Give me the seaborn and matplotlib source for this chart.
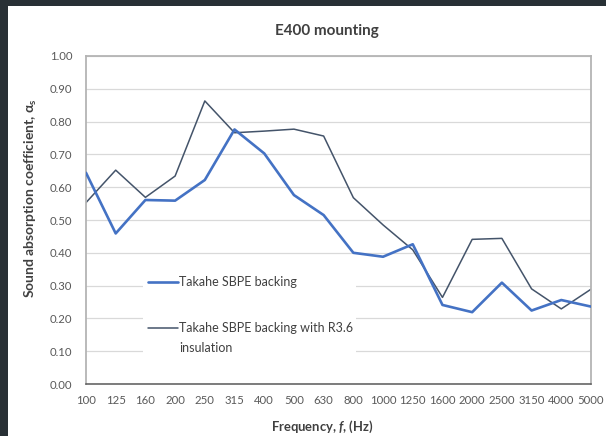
import pandas as pd
import matplotlib.pyplot as plt
import seaborn as sns
from matplotlib.lines import Line2D
from matplotlib.patches import Rectangle

# data
freqs = ['100', '125', '160', '200', '250', '315', '400', '500', '630', '800',
         '1000', '1250', '1600', '2000', '2500', '3150', '4000', '5000']
sbpe = [0.644, 0.459, 0.561, 0.559, 0.622, 0.776, 0.703, 0.576, 0.515, 0.400,
        0.388, 0.426, 0.241, 0.219, 0.309, 0.224, 0.256, 0.236]
sbpe_r36 = [0.553, 0.652, 0.569, 0.634, 0.863, 0.766, 0.771, 0.777, 0.756, 0.568,
            0.485, 0.409, 0.264, 0.441, 0.444, 0.290, 0.229, 0.289]
series_names = ['Takahe SBPE backing', 'Takahe SBPE backing with R3.6 insulation']
yticks = [0.0, 0.1, 0.2, 0.3, 0.4, 0.5, 0.6, 0.7, 0.8, 0.9, 1.0]

sns.set_style('white')
plt.rcParams['font.family'] = ['Lato', 'DejaVu Sans']
plt.rcParams['mathtext.fontset'] = 'custom'
plt.rcParams['mathtext.rm'] = 'Lato'
plt.rcParams['mathtext.bf'] = 'Lato:bold'
plt.rcParams['mathtext.it'] = 'Lato:italic'
plt.rcParams['mathtext.bfit'] = 'Lato:bold:italic'

df = pd.DataFrame({'freq': freqs * 2,
                   'alpha': sbpe + sbpe_r36,
                   'series': [series_names[0]] * len(freqs) + [series_names[1]] * len(freqs)})

W, H = 606, 436
fig = plt.figure(figsize=(W / 100, H / 100), dpi=100)
ax = fig.add_axes([86 / W, 1 - 384 / H, (591 - 86) / W, (384 - 56) / H])

blue = '#4472C4'
dark = '#44546A'
sns.lineplot(data=df[df.series == series_names[0]], x='freq', y='alpha', color=blue,
             lw=1.9, ax=ax, zorder=3, solid_joinstyle='round')
sns.lineplot(data=df[df.series == series_names[1]], x='freq', y='alpha', color=dark,
             lw=1.1, ax=ax, zorder=2.5, solid_joinstyle='round')

ax.set_xlim(0, len(freqs) - 1)
ax.set_ylim(0, 1.0)
ax.set_yticks(yticks)
ax.set_yticklabels([f'{v:.2f}' for v in yticks])
ax.set_xticks(range(len(freqs)))
ax.set_xticklabels(freqs)
ax.set_xlabel('')
ax.set_ylabel('')
ax.set_axisbelow(True)
ax.yaxis.grid(True, color='#d9d9d9', lw=0.9)
ax.tick_params(axis='y', length=0, pad=10, labelsize=8.2, labelcolor='#595959')
ax.tick_params(axis='x', direction='in', length=3, width=0.8, color='#595959',
               pad=8, labelsize=8.2, labelcolor='#595959')
for s in ['left', 'top', 'right']:
    ax.spines[s].set_color('#b4b4b4')
    ax.spines[s].set_linewidth(1.3)
ax.spines['bottom'].set_color('#595959')
ax.spines['bottom'].set_linewidth(1.1)

# legend box (white, covers grid)
ax.add_patch(Rectangle((0.113, 0.055), 0.422, 0.33, transform=ax.transAxes,
                       facecolor='white', edgecolor='none', zorder=1.5))
leg1 = ax.legend(handles=[Line2D([], [], color=blue, lw=1.9)], labels=[series_names[0]],
                 loc='center left', bbox_to_anchor=(0.1228, 0.311), frameon=False,
                 fontsize=9, handlelength=2.4, handletextpad=0.1, borderpad=0,
                 borderaxespad=0, labelcolor='#404040')
ax.add_artist(leg1)
leg2 = ax.legend(handles=[Line2D([], [], color=dark, lw=1.1), Line2D([], [], color='none')],
                 labels=['Takahe SBPE backing with R3.6', 'insulation'],
                 loc='upper left', bbox_to_anchor=(0.1228, 0.188), frameon=False,
                 fontsize=9, handlelength=2.4, handletextpad=0.1, borderpad=0,
                 borderaxespad=0, labelspacing=0.6, labelcolor='#404040')

fig.text(327 / W, 1 - 31 / H, 'E400 mounting', ha='center', va='center',
         fontsize=11, fontweight='bold', color='#404040')
fig.text(322 / W, 1 - 427 / H, r'Frequency, $\mathbfit{f}$, (Hz)', ha='center', va='center',
         fontsize=9.4, fontweight='bold', color='#404040')
fig.text(31 / W, 1 - 198 / H, r'Sound absorption coefficient, $\mathbf{\alpha}_\mathbf{s}$',
         ha='center', va='center', rotation=90, fontsize=10, fontweight='bold', color='#404040')

# dark frame strips at top and left edge
frame = '#283035'
fig.patches.append(Rectangle((0, 1 - 6 / H), 1, 6 / H, transform=fig.transFigure,
                             facecolor=frame, edgecolor='none'))
fig.patches.append(Rectangle((0, 0), 8 / W, 1, transform=fig.transFigure,
                             facecolor=frame, edgecolor='none'))

fig.savefig('out.png', dpi=100)
